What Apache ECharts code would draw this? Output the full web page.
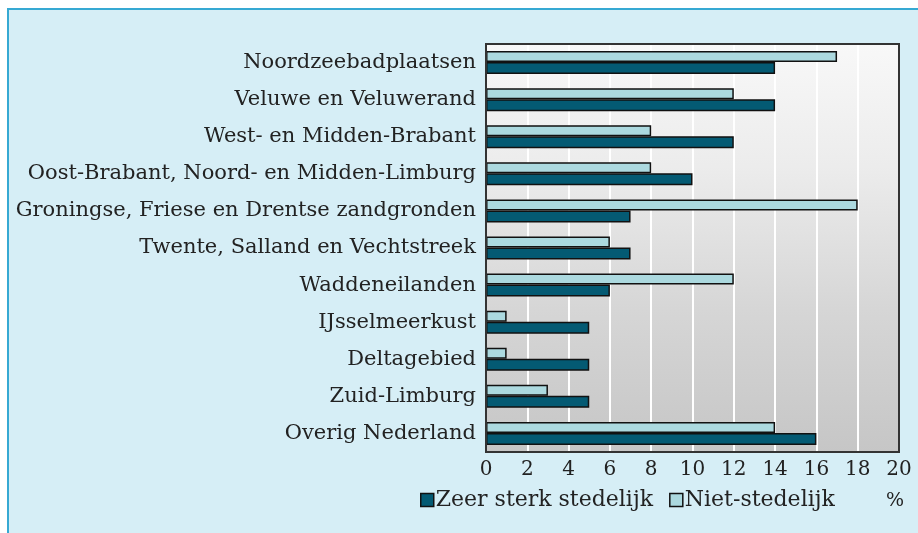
<!DOCTYPE html>
<html>
<head>
<meta charset="utf-8">
<script src="https://cdn.jsdelivr.net/npm/echarts@6/dist/echarts.min.js"></script>
<style>
  html, body { margin: 0; padding: 0; background: #fff; }
  #chart { width: 918px; height: 533px; }
</style>
</head>
<body>
<div id="chart"></div>
<script>
// regio's, van boven naar beneden
var categories = [
  'Noordzeebadplaatsen',
  'Veluwe en Veluwerand',
  'West- en Midden-Brabant',
  'Oost-Brabant, Noord- en Midden-Limburg',
  'Groningse, Friese en Drentse zandgronden',
  'Twente, Salland en Vechtstreek',
  'Waddeneilanden',
  'IJsselmeerkust',
  'Deltagebied',
  'Zuid-Limburg',
  'Overig Nederland'
]
var zeerSterkStedelijk = [14, 14, 12, 10, 7, 7, 6, 5, 5, 5, 16]
var nietStedelijk = [17, 12, 8, 8, 18, 6, 12, 1, 1, 3, 14]
var xTicks = [0, 2, 4, 6, 8, 10, 12, 14, 16, 18, 20]

var serif = "'DejaVu Serif', 'Liberation Serif', serif"
var darkColor = '#045a73'
var lightColor = '#acd9df'

var chart = echarts.init(document.getElementById('chart'))

chart.setOption({
  backgroundColor: 'transparent',
  textStyle: { fontFamily: serif },
  graphic: [
    {
      type: 'rect',
      z: -10,
      shape: { x: 8, y: 9, width: 930, height: 540 },
      style: { fill: '#d6eef6', stroke: '#36a9d3', lineWidth: 2 }
    },
    {
      // rand om het plotvlak
      type: 'rect',
      z: 100,
      silent: true,
      shape: { x: 486, y: 44, width: 413, height: 408 },
      style: { fill: 'none', stroke: '#333', lineWidth: 2 }
    },
    {
      type: 'text',
      x: 886,
      y: 492,
      style: { text: '%', font: '19px ' + serif, fill: '#222' }
    }
  ],
  legend: {
    data: ['Zeer sterk stedelijk', 'Niet-stedelijk'],
    left: 420,
    top: 489,
    padding: 0,
    itemWidth: 13,
    itemHeight: 13,
    itemGap: 16,
    icon: 'rect',
    textStyle: { fontFamily: serif, fontSize: 22, color: '#222', padding: [0, 0, 0, -3] },
    itemStyle: { borderColor: '#111', borderWidth: 1.5 }
  },
  grid: {
    left: 486,
    right: 19,
    top: 44,
    bottom: 81,
    show: true,
    borderWidth: 0,
    backgroundColor: new echarts.graphic.LinearGradient(0, 0, 0, 1, [
      { offset: 0, color: '#f8f8f8' },
      { offset: 0.3, color: '#ececec' },
      { offset: 0.65, color: '#d6d6d6' },
      { offset: 1, color: '#c6c6c6' }
    ])
  },
  xAxis: {
    type: 'value',
    min: 0,
    max: 20,
    interval: 2,
    axisLine: { show: false },
    axisTick: { show: false },
    axisLabel: {
      fontFamily: serif,
      fontSize: 20,
      color: '#222',
      margin: 8,
      formatter: function (v) { return xTicks.indexOf(v) >= 0 ? String(v) : '' }
    },
    splitLine: { show: true, lineStyle: { color: '#ffffff', width: 2 } }
  },
  yAxis: {
    type: 'category',
    data: categories,
    inverse: true,
    axisLine: { show: false },
    axisTick: { show: false },
    axisLabel: {
      fontFamily: serif,
      fontSize: 21,
      color: '#222',
      margin: 10
    }
  },
  series: [
    {
      name: 'Niet-stedelijk',
      type: 'bar',
      data: nietStedelijk,
      barWidth: 11,
      barGap: '0%',
      itemStyle: { color: lightColor, borderColor: '#111', borderWidth: 1.5 }
    },
    {
      name: 'Zeer sterk stedelijk',
      type: 'bar',
      data: zeerSterkStedelijk,
      barWidth: 12,
      barGap: '0%',
      itemStyle: { color: darkColor, borderColor: '#111', borderWidth: 1.5 }
    }
  ]
})
</script>
</body>
</html>
